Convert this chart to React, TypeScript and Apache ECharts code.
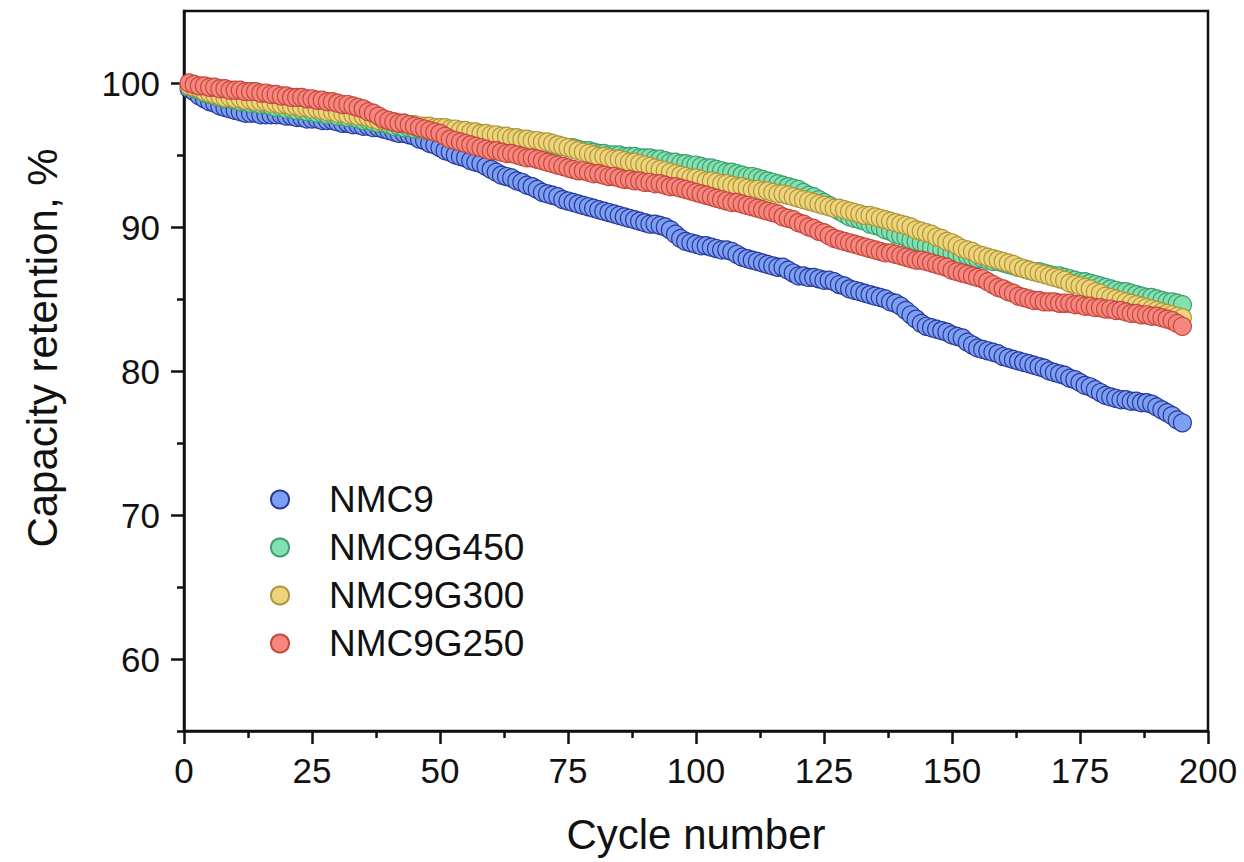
import React, { useEffect, useRef } from "react";
import * as echarts from "echarts";

const seriesNames = ["NMC9", "NMC9G450", "NMC9G300", "NMC9G250"];
const xTicks = [0, 25, 50, 75, 100, 125, 150, 175, 200];
const yMajorTicks = [60, 70, 80, 90, 100];
const yMinorTicks = [55, 65, 75, 85, 95];

const nmc9 = [
  99.6, 99.4, 99.1, 98.9, 98.7, 98.6, 98.4, 98.3, 98.2, 98.1,
  98.0, 97.9, 97.9, 97.9, 97.8, 97.8, 97.8, 97.8, 97.8, 97.7,
  97.7, 97.6, 97.6, 97.5, 97.5, 97.5, 97.4, 97.4, 97.4, 97.3,
  97.2, 97.2, 97.1, 97.1, 97.0, 97.0, 96.9, 96.9, 96.8, 96.7,
  96.6, 96.5, 96.5, 96.4, 96.3, 96.1, 96.0, 95.8, 95.7, 95.5,
  95.3, 95.2, 95.0, 94.9, 94.8, 94.6, 94.5, 94.4, 94.2, 94.0,
  93.8, 93.6, 93.5, 93.4, 93.2, 93.1, 92.9, 92.8, 92.6, 92.4,
  92.3, 92.2, 92.1, 91.9, 91.8, 91.7, 91.6, 91.5, 91.4, 91.3,
  91.2, 91.1, 91.0, 90.9, 90.8, 90.7, 90.6, 90.5, 90.4, 90.3,
  90.2, 90.2, 90.1, 90.0, 89.8, 89.5, 89.2, 89.0, 88.9, 88.8,
  88.7, 88.7, 88.6, 88.5, 88.4, 88.4, 88.3, 88.1, 87.9, 87.8,
  87.7, 87.6, 87.5, 87.4, 87.3, 87.2, 87.2, 87.0, 86.8, 86.6,
  86.6, 86.5, 86.5, 86.4, 86.3, 86.3, 86.2, 86.0, 85.9, 85.7,
  85.6, 85.5, 85.4, 85.3, 85.2, 85.1, 85.0, 84.8, 84.7, 84.5,
  84.2, 83.9, 83.6, 83.3, 83.1, 83.0, 82.9, 82.8, 82.7, 82.5,
  82.4, 82.3, 82.0, 81.8, 81.6, 81.5, 81.4, 81.3, 81.2, 81.0,
  80.9, 80.8, 80.7, 80.6, 80.5, 80.4, 80.3, 80.2, 80.0, 79.9,
  79.8, 79.7, 79.5, 79.4, 79.2, 79.0, 78.9, 78.7, 78.5, 78.3,
  78.2, 78.1, 78.0, 78.0, 77.9, 77.9, 77.8, 77.8, 77.7, 77.5,
  77.3, 77.1, 76.9, 76.6, 76.4,
];

const nmc9g450 = [
  99.8, 99.6, 99.5, 99.3, 99.2, 99.1, 99.0, 98.9, 98.9, 98.8,
  98.7, 98.7, 98.6, 98.6, 98.5, 98.5, 98.4, 98.3, 98.3, 98.2,
  98.2, 98.1, 98.1, 98.0, 98.0, 97.9, 97.9, 97.8, 97.8, 97.7,
  97.7, 97.6, 97.6, 97.5, 97.4, 97.4, 97.3, 97.2, 97.2, 97.1,
  97.0, 97.0, 96.9, 96.9, 96.8, 96.8, 96.7, 96.7, 96.6, 96.6,
  96.6, 96.5, 96.5, 96.4, 96.4, 96.3, 96.3, 96.3, 96.2, 96.2,
  96.1, 96.1, 96.1, 96.0, 96.0, 96.0, 95.9, 95.9, 95.8, 95.8,
  95.7, 95.7, 95.6, 95.6, 95.5, 95.5, 95.4, 95.3, 95.3, 95.2,
  95.1, 95.1, 95.0, 95.0, 95.0, 94.9, 94.9, 94.9, 94.8, 94.8,
  94.8, 94.7, 94.7, 94.6, 94.5, 94.5, 94.4, 94.4, 94.3, 94.3,
  94.2, 94.1, 94.1, 94.0, 93.9, 93.8, 93.8, 93.7, 93.6, 93.5,
  93.5, 93.4, 93.3, 93.2, 93.1, 93.0, 92.9, 92.8, 92.7, 92.6,
  92.4, 92.2, 92.1, 91.9, 91.7, 91.5, 91.3, 91.1, 90.9, 90.7,
  90.6, 90.5, 90.4, 90.2, 90.1, 90.0, 89.8, 89.7, 89.5, 89.4,
  89.3, 89.1, 89.0, 88.9, 88.7, 88.6, 88.5, 88.4, 88.3, 88.2,
  88.1, 88.0, 88.0, 87.9, 87.8, 87.8, 87.7, 87.6, 87.6, 87.5,
  87.4, 87.3, 87.2, 87.1, 87.0, 86.9, 86.9, 86.8, 86.7, 86.6,
  86.6, 86.5, 86.4, 86.3, 86.2, 86.2, 86.1, 86.0, 85.9, 85.8,
  85.7, 85.6, 85.5, 85.5, 85.4, 85.3, 85.2, 85.1, 85.1, 85.0,
  84.9, 84.8, 84.8, 84.7, 84.6,
];

const nmc9g300 = [
  99.8, 99.7, 99.6, 99.4, 99.3, 99.2, 99.1, 99.0, 99.0, 98.9,
  98.9, 98.8, 98.8, 98.7, 98.7, 98.7, 98.6, 98.6, 98.5, 98.5,
  98.4, 98.4, 98.3, 98.3, 98.2, 98.2, 98.1, 98.0, 98.0, 97.9,
  97.9, 97.8, 97.8, 97.7, 97.7, 97.6, 97.5, 97.4, 97.4, 97.3,
  97.3, 97.2, 97.2, 97.1, 97.1, 97.0, 97.0, 97.0, 96.9, 96.9,
  96.9, 96.8, 96.8, 96.7, 96.7, 96.6, 96.6, 96.5, 96.5, 96.4,
  96.4, 96.3, 96.3, 96.2, 96.2, 96.1, 96.1, 96.0, 96.0, 95.9,
  95.9, 95.8, 95.7, 95.6, 95.5, 95.4, 95.3, 95.2, 95.1, 95.0,
  94.9, 94.9, 94.8, 94.7, 94.7, 94.6, 94.5, 94.5, 94.4, 94.3,
  94.2, 94.1, 94.0, 93.9, 93.8, 93.7, 93.6, 93.5, 93.4, 93.4,
  93.3, 93.2, 93.2, 93.1, 93.0, 93.0, 92.9, 92.8, 92.8, 92.7,
  92.6, 92.6, 92.5, 92.5, 92.4, 92.3, 92.3, 92.2, 92.1, 92.0,
  91.9, 91.8, 91.7, 91.6, 91.5, 91.4, 91.3, 91.3, 91.2, 91.1,
  91.0, 90.9, 90.8, 90.8, 90.7, 90.6, 90.5, 90.4, 90.3, 90.2,
  90.1, 90.0, 89.8, 89.7, 89.6, 89.5, 89.3, 89.2, 89.0, 88.9,
  88.7, 88.5, 88.4, 88.3, 88.1, 88.0, 87.9, 87.8, 87.7, 87.6,
  87.5, 87.4, 87.2, 87.1, 87.0, 86.9, 86.8, 86.7, 86.6, 86.5,
  86.4, 86.3, 86.1, 86.0, 85.9, 85.8, 85.7, 85.5, 85.4, 85.2,
  85.1, 85.0, 84.9, 84.8, 84.7, 84.6, 84.5, 84.4, 84.3, 84.2,
  84.1, 84.0, 83.9, 83.8, 83.7,
];

const nmc9g250 = [
  100.0, 99.9, 99.8, 99.8, 99.7, 99.7, 99.6, 99.6, 99.5, 99.5,
  99.5, 99.4, 99.4, 99.4, 99.3, 99.3, 99.2, 99.2, 99.1, 99.1,
  99.0, 99.0, 99.0, 98.9, 98.9, 98.8, 98.8, 98.7, 98.7, 98.6,
  98.5, 98.5, 98.4, 98.3, 98.2, 98.0, 97.9, 97.7, 97.5, 97.4,
  97.3, 97.2, 97.2, 97.1, 97.0, 96.9, 96.8, 96.7, 96.6, 96.5,
  96.3, 96.1, 96.0, 95.9, 95.8, 95.7, 95.6, 95.5, 95.4, 95.3,
  95.3, 95.2, 95.1, 95.1, 95.0, 94.9, 94.8, 94.8, 94.7, 94.6,
  94.5, 94.4, 94.3, 94.2, 94.1, 94.0, 93.9, 93.9, 93.8, 93.7,
  93.7, 93.6, 93.5, 93.5, 93.4, 93.3, 93.3, 93.2, 93.2, 93.1,
  93.1, 93.0, 93.0, 92.9, 92.8, 92.8, 92.7, 92.6, 92.5, 92.4,
  92.3, 92.2, 92.1, 92.0, 91.9, 91.8, 91.7, 91.7, 91.6, 91.5,
  91.4, 91.3, 91.2, 91.1, 91.0, 90.9, 90.7, 90.6, 90.5, 90.3,
  90.2, 90.0, 89.9, 89.7, 89.6, 89.4, 89.2, 89.1, 89.0, 88.9,
  88.8, 88.7, 88.6, 88.5, 88.4, 88.3, 88.2, 88.2, 88.1, 88.0,
  87.9, 87.8, 87.7, 87.7, 87.6, 87.5, 87.4, 87.3, 87.2, 87.0,
  86.9, 86.8, 86.7, 86.6, 86.5, 86.4, 86.2, 86.0, 85.8, 85.7,
  85.5, 85.4, 85.2, 85.1, 85.0, 84.9, 84.9, 84.8, 84.8, 84.8,
  84.7, 84.7, 84.7, 84.6, 84.6, 84.5, 84.5, 84.4, 84.4, 84.3,
  84.3, 84.2, 84.2, 84.1, 84.0, 84.0, 83.9, 83.9, 83.8, 83.8,
  83.7, 83.6, 83.5, 83.3, 83.1,
];

const seriesValues = [nmc9, nmc9g450, nmc9g300, nmc9g250];
const fillColors = ["#7d9ef1", "#84e0b0", "#eed47a", "#f5877e"];
const borderColors = ["#26389a", "#3c9e6c", "#ae953c", "#c6463c"];

const FONT = "'Liberation Sans', Arial, Helvetica, sans-serif";

export default function App() {
  const ref = useRef<HTMLDivElement>(null);

  useEffect(() => {
    if (!ref.current) return;
    const chart = echarts.init(ref.current, undefined, { renderer: "svg" });

    const series = seriesNames.map((name, si) => ({
      name,
      type: "scatter",
      xAxisIndex: 0,
      yAxisIndex: 0,
      symbol: "circle",
      symbolSize: 18,
      itemStyle: {
        color: fillColors[si],
        borderColor: borderColors[si],
        borderWidth: 1.2,
        opacity: 1,
      },
      data: seriesValues[si].map((v, i) => [i + 1, v]),
      z: 2 + si,
    }));

    const option = {
      animation: false,
      backgroundColor: "#ffffff",
      textStyle: { fontFamily: FONT },
      grid: {
        left: 184,
        right: 36,
        top: 11,
        bottom: 131,
        show: true,
        borderColor: "#111",
        borderWidth: 2.5,
        backgroundColor: "transparent",
      },
      legend: {
        data: seriesNames,
        orient: "vertical",
        left: 265,
        top: 476,
        itemWidth: 18,
        itemHeight: 18,
        itemGap: 11,
        icon: "circle",
        textStyle: {
          fontFamily: FONT,
          fontSize: 37,
          color: "#111",
          lineHeight: 37,
          padding: [0, 0, 0, 35],
        },
      },
      xAxis: {
        type: "value",
        min: xTicks[0],
        max: xTicks[xTicks.length - 1],
        interval: 25,
        name: "Cycle number",
        nameLocation: "middle",
        nameGap: 82,
        nameTextStyle: { fontFamily: FONT, fontSize: 42, color: "#111" },
        axisLine: { show: true, lineStyle: { color: "#111", width: 2.5 } },
        axisTick: { show: true, inside: false, length: 13, lineStyle: { color: "#111", width: 2.5 } },
        minorTick: { show: true, splitNumber: 2, length: 7, lineStyle: { color: "#111", width: 2.5 } },
        axisLabel: { fontFamily: FONT, fontSize: 35, color: "#111", margin: 22 },
        splitLine: { show: false },
      },
      yAxis: [
        {
          type: "value",
          min: 55,
          max: 105,
          position: "left",
          axisLine: { show: true, lineStyle: { color: "#111", width: 2.5 } },
          axisTick: {
            show: true,
            length: 13,
            customValues: yMajorTicks,
            lineStyle: { color: "#111", width: 2.5 },
          },
          axisLabel: {
            fontFamily: FONT,
            fontSize: 35,
            color: "#111",
            margin: 24,
            customValues: yMajorTicks,
          },
          splitLine: { show: false },
        },
        {
          type: "value",
          min: 55,
          max: 105,
          position: "left",
          axisLine: { show: false },
          axisTick: {
            show: true,
            length: 7,
            customValues: yMinorTicks,
            lineStyle: { color: "#111", width: 2.5 },
          },
          axisLabel: { show: false },
          splitLine: { show: false },
        },
      ],
      graphic: [
        {
          type: "text",
          x: 42,
          y: 348,
          rotation: Math.PI / 2,
          style: {
            text: "Capacity retention, %",
            fontFamily: FONT,
            fontSize: 42,
            fill: "#111",
            align: "center",
            verticalAlign: "middle",
          },
        },
      ],
      series,
    };

    chart.setOption(option as any);
    return () => chart.dispose();
  }, []);

  return (
    <div
      ref={ref}
      style={{ position: "fixed", left: 0, top: 0, width: 1244, height: 862, background: "#fff" }}
    />
  );
}
